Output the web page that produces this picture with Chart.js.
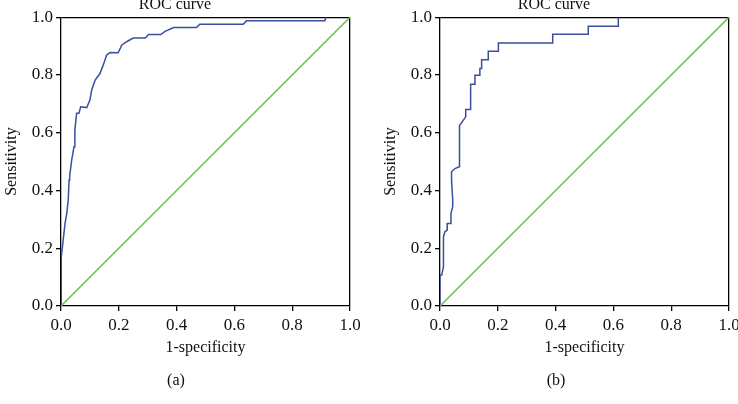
<!DOCTYPE html>
<html>
<head>
<meta charset="utf-8">
<script src="https://cdn.jsdelivr.net/npm/chart.js@4/dist/chart.umd.min.js"></script>
<style>
  html, body { margin: 0; padding: 0; background: #fff; }
  body { width: 738px; height: 404px; overflow: hidden; position: relative; }
  .panel { position: absolute; top: 0; width: 369px; height: 404px; }
  .caption {
    position: absolute; top: 371px; width: 60px; margin-left: -30px;
    text-align: center; font: 16px "Liberation Serif", "DejaVu Serif", serif; color: #111;
  }
</style>
</head>
<body>
<div class="panel" style="left:0"><canvas id="rocA" width="369" height="404"></canvas></div>
<div class="panel" style="left:379px"><canvas id="rocB" width="369" height="404"></canvas></div>
<div class="caption" style="left:176px">(a)</div>
<div class="caption" style="left:556px">(b)</div>

<script>
// ======================================
// Data
// ======================================

const tickValues = [0, 0.2, 0.4, 0.6, 0.8, 1.0];

const diagonalX = [0, 1];
const diagonalY = [0, 1];

// panel (a)
const rocAX = [0, 0, 0.002, 0.005, 0.014, 0.02, 0.025, 0.028, 0.03, 0.037, 0.045, 0.048, 0.054, 0.062,
  0.068, 0.089, 0.1, 0.106, 0.118, 0.135, 0.146, 0.158, 0.17, 0.198, 0.21, 0.227, 0.25, 0.292,
  0.303, 0.345, 0.36, 0.39, 0.469, 0.48, 0.631, 0.642, 0.913, 0.917];
const rocAY = [0, 0.09, 0.171, 0.205, 0.286, 0.321, 0.367, 0.436, 0.45, 0.505, 0.551, 0.609, 0.667, 0.667,
  0.69, 0.687, 0.713, 0.747, 0.782, 0.805, 0.834, 0.869, 0.878, 0.877, 0.903, 0.915, 0.928, 0.928,
  0.94, 0.94, 0.951, 0.964, 0.964, 0.976, 0.976, 0.988, 0.988, 1.0];

// panel (b)
const rocBX = [0, 0, 0, 0.006, 0.012, 0.012, 0.017, 0.025, 0.025, 0.035, 0.038, 0.044, 0.044, 0.04,
  0.04, 0.052, 0.066, 0.066, 0.069, 0.089, 0.089, 0.104, 0.106, 0.106, 0.121, 0.121, 0.138, 0.138,
  0.144, 0.144, 0.167, 0.167, 0.202, 0.202, 0.39, 0.39, 0.513, 0.513, 0.617, 0.617];
const rocBY = [0, 0.055, 0.107, 0.107, 0.136, 0.24, 0.257, 0.263, 0.286, 0.286, 0.321, 0.344, 0.367, 0.436,
  0.465, 0.476, 0.482, 0.623, 0.625, 0.655, 0.68, 0.68, 0.724, 0.768, 0.768, 0.799, 0.799, 0.822,
  0.822, 0.853, 0.853, 0.882, 0.882, 0.911, 0.911, 0.941, 0.941, 0.969, 0.969, 1.0];

// ======================================
// Chart setup
// ======================================

const FONT = '"Liberation Serif", "DejaVu Serif", serif';
const BLUE = "#3b4f9e";
const GREEN = "#6cbd4f";

const toPoints = (xs, ys) => xs.map((x, i) => ({ x: x, y: ys[i] }));

// only the grid line at 1.0 is shown, it closes the box at top / right
const edgeOnly = (ctx) =>
  ctx.tick && Math.abs(ctx.tick.value - 1) < 1e-6 ? "#000" : "rgba(0,0,0,0)";

function axis(titleText, isX) {
  return {
    type: "linear",
    min: 0,
    max: 1,
    afterBuildTicks: (scale) => {
      scale.ticks = tickValues.map((v) => ({ value: v }));
    },
    ticks: {
      color: "#111",
      font: { family: FONT, size: 17 },
      padding: isX ? 4 : 3,
      callback: (v) => Number(v).toFixed(1),
    },
    grid: {
      color: edgeOnly,
      tickColor: "#000",
      tickLength: 5,
      lineWidth: 1.3,
    },
    border: { display: true, color: "#000", width: 1.3 },
    title: {
      display: true,
      text: titleText,
      color: "#111",
      font: { family: FONT, size: 16 },
      padding: isX ? { top: 0, bottom: 47 } : { top: 2, bottom: 0 },
    },
    afterFit: (scale) => {
      if (isX) scale.height = 98;
      else scale.width = 61;
    },
  };
}

function makeRocChart(id, xs, ys) {
  return new Chart(document.getElementById(id), {
    type: "scatter",
    data: {
      datasets: [
        {
          data: toPoints(diagonalX, diagonalY),
          showLine: true,
          borderColor: GREEN,
          borderWidth: 1.5,
          pointRadius: 0,
        },
        {
          data: toPoints(xs, ys),
          showLine: true,
          borderColor: BLUE,
          borderWidth: 1.5,
          pointRadius: 0,
          tension: 0,
        },
      ],
    },
    options: {
      responsive: false,
      animation: false,
      layout: { padding: { top: -5, right: 19, left: 0, bottom: 0 } },
      plugins: {
        legend: { display: false },
        tooltip: { enabled: false },
        title: {
          display: true,
          text: "ROC curve",
          color: "#111",
          font: { family: FONT, size: 16, weight: "normal" },
          padding: { top: 0, bottom: 3 },
        },
      },
      scales: {
        x: axis("1-specificity", true),
        y: axis("Sensitivity", false),
      },
    },
  });
}

makeRocChart("rocA", rocAX, rocAY);
makeRocChart("rocB", rocBX, rocBY);
</script>
</body>
</html>
